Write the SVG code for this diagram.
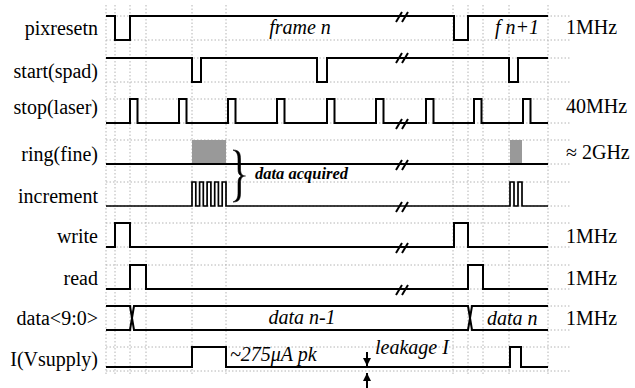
<svg xmlns="http://www.w3.org/2000/svg" width="635" height="388" viewBox="0 0 635 388">
<style>
.grid{stroke:#b4b4b4;stroke-width:1;stroke-dasharray:1.5 2;fill:none}
.sig{stroke:#000;stroke-width:2;fill:none;stroke-linejoin:miter}
.brk{stroke:#000;stroke-width:2;fill:none}
.lbl{font-family:'Liberation Serif','Times New Roman',Times,serif;font-size:20px;fill:#000}
.it{font-family:'Liberation Serif','Times New Roman',Times,serif;font-size:20px;font-style:italic;fill:#000}
.r{text-anchor:end}
.m{text-anchor:middle}
</style>
<defs>
<marker id="ah" viewBox="0 0 10 10" refX="10" refY="5" markerWidth="4" markerHeight="4" orient="auto" markerUnits="strokeWidth"><path d="M0,0 L10,5 L0,10 z" fill="#000"/></marker>
</defs>
<rect width="635" height="388" fill="#fff"/>
<g id="grid">
<path class="grid" d="M106,16 H570 M106,40 H570 M106,58 H570 M106,82 H570 M106,99 H570 M106,123 H570 M106,140 H570 M106,164 H570 M106,182 H570 M106,206 H570 M106,223 H570 M106,247 H570 M106,265 H570 M106,289 H570 M106,306 H570 M106,330 H570 M106,347 H570 M106,371 H570"/>
<path class="grid" d="M106,5 V375 M115,5 V375 M130,5 V375 M146,5 V375 M192,5 V375 M226,5 V375 M453,5 V375 M468,5 V375 M483,5 V375 M509,5 V375 M548,5 V375"/>
</g>
<g id="labels">
<text class="lbl r" x="98" y="35">pixresetn</text>
<text class="lbl r" x="98" y="78">start(spad)</text>
<text class="lbl r" x="98" y="114">stop(laser)</text>
<text class="lbl r" x="98" y="161">ring(fine)</text>
<text class="lbl r" x="98" y="203">increment</text>
<text class="lbl r" x="98" y="243">write</text>
<text class="lbl r" x="98" y="285">read</text>
<text class="lbl r" x="98" y="325">data&lt;9:0&gt;</text>
<text class="lbl r" x="98" y="366">I(Vsupply)</text>
<text class="lbl" x="566" y="34">1MHz</text>
<text class="lbl" x="566" y="113">40MHz</text>
<text class="lbl" x="566" y="159">≈ 2GHz</text>
<text class="lbl" x="566" y="243">1MHz</text>
<text class="lbl" x="566" y="285">1MHz</text>
<text class="lbl" x="566" y="325">1MHz</text>
</g>
<g id="pixresetn">
<path class="sig" d="M106,16 H115 V40 H130 V16 H454 V40 H468 V16 H548"/>
<text class="it m" x="300" y="34">frame n</text>
<text class="it" x="495" y="34">f n+1</text>
</g>
<g id="start">
<path class="sig" d="M106,58 H192 V82 H201 V58 H317 V82 H327 V58 H509 V82 H518 V58 H548"/>
</g>
<g id="stop">
<path class="sig" d="M106,123 H130 V99 H137.5 V123 H179 V99 H186.5 V123 H228 V99 H235.5 V123 H277 V99 H284.5 V123 H327 V99 H334.5 V123 H376 V99 H383.5 V123 H426 V99 H433.5 V123 H474 V99 H481.5 V123 H523 V99 H530.5 V123 H548"/>
</g>
<g id="ring">
<rect x="192" y="140" width="34" height="24" fill="#999"/>
<rect x="510" y="140" width="12" height="24" fill="#999"/>
<path class="sig" d="M106,164 H548"/>
</g>
<g id="increment">
<path class="sig" style="stroke-width:1.7" d="M106,206 H192 V182 H195.8 V206 H199.6 V182 H203.3 V206 H207.1 V182 H210.9 V206 H214.7 V182 H218.4 V206 H222.2 V182 H226 V206 H510 V182 H514 V206 H518 V182 H522 V206 H548"/>
</g>
<g id="data-acquired">
<path d="M233,150 C240,150 240.5,154 240.5,160 L240.5,169 C240.5,173.5 242,176 245.5,176 C242,176 240.5,178.5 240.5,183 L240.5,192 C240.5,198 240,202 233,202 C237.5,200 238,197 238,192 L238,183 C238,179 239,177 241.5,176 C239,175 238,173 238,169 L238,160 C238,155 237.5,152 233,150 z" fill="#000" stroke="#000" stroke-width="0.6"/>
<text x="255" y="179" style="font-family:'Liberation Serif','Times New Roman',Times,serif;font-size:16.5px;font-style:italic;font-weight:bold">data acquired</text>
</g>
<g id="write">
<path class="sig" d="M106,247 H115 V223 H130 V247 H454 V223 H468 V247 H548"/>
</g>
<g id="read">
<path class="sig" d="M106,289 H130 V265 H146 V289 H468 V265 H483 V289 H548"/>
</g>
<g id="data">
<path class="sig" d="M106,306 H130 L134,330 H468 L472,306 H548 M106,330 H130 L134,306 H468 L472,330 H548"/>
<text class="it m" x="302" y="324">data n-1</text>
<text class="it" x="487" y="325">data n</text>
</g>
<g id="ivsupply">
<path class="sig" d="M106,367 H192 V347 H226 V367 H510 V347 H521 V367 H548"/>
<text class="it" x="230" y="361">~275μA pk</text>
<text class="it" x="375" y="354">leakage I</text>
</g>
<g id="connectors">
<path class="brk" d="M396,22 L402,12 M402,22 L408,12 M396,63 L402,53 M402,63 L408,53 M396,129 L402,119 M402,129 L408,119 M396,170 L402,160 M402,170 L408,160 M396,212 L402,202 M402,212 L408,202 M396,253 L402,243 M402,253 L408,243 M396,295 L402,285 M402,295 L408,285"/>
<path class="sig" d="M367,352 V366" marker-end="url(#ah)"/>
<path class="sig" d="M367,388 V373" marker-end="url(#ah)"/>
</g>
</svg>
